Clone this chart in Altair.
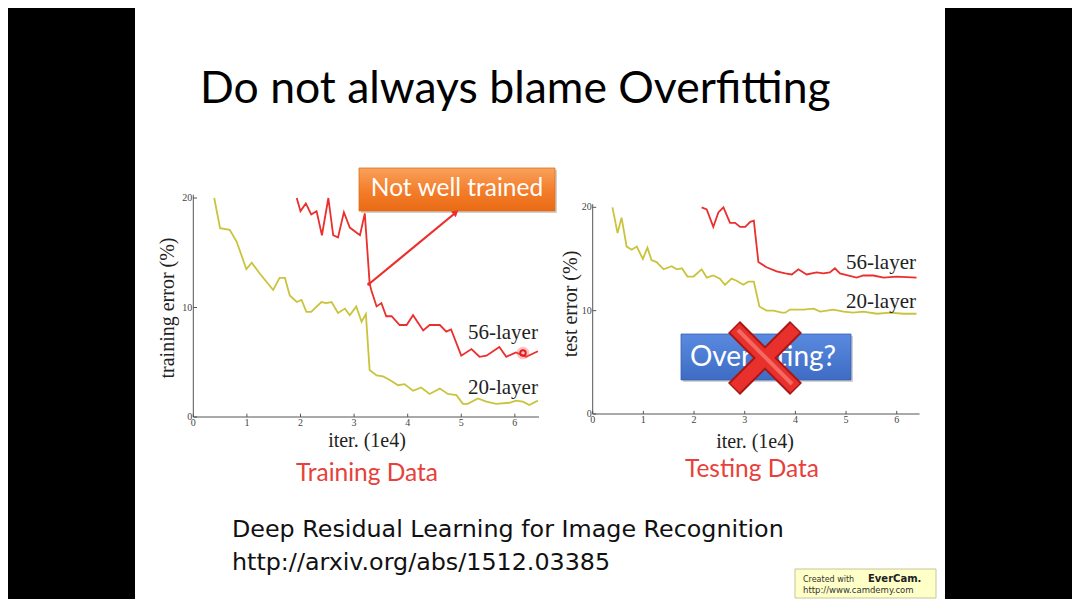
import altair as alt
import pandas as pd

# ---------------- data ----------------
train20_x = [0.39, 0.5, 0.68, 0.81, 0.99, 1.09, 1.24, 1.49, 1.61, 1.71, 1.8, 1.93, 2.02, 2.11, 2.2,
             2.39, 2.48, 2.58, 2.7, 2.83, 2.92, 3.04, 3.14, 3.22, 3.29, 3.42, 3.54, 3.66, 3.82, 3.94,
             4.1, 4.25, 4.41, 4.6, 4.75, 4.91, 5.03, 5.12, 5.31, 5.47, 5.65, 5.9, 6.02, 6.15, 6.27, 6.43]
train20_y = [20.0, 17.25, 17.1, 16.0, 13.5, 14.1, 13.1, 11.6, 12.7, 12.7, 11.1, 10.5, 10.7, 9.6, 9.6,
             10.5, 10.4, 10.5, 9.5, 9.9, 9.3, 10.1, 8.7, 9.4, 4.3, 3.8, 3.7, 3.4, 2.9, 3.0,
             2.4, 2.7, 2.1, 2.6, 2.1, 2.0, 1.2, 1.2, 1.7, 1.4, 1.2, 1.3, 1.5, 1.4, 1.1, 1.5]

train56_x = [1.93, 2.0, 2.1, 2.2, 2.3, 2.4, 2.52, 2.61, 2.7, 2.81, 2.92, 3.11, 3.2, 3.29, 3.32,
             3.42, 3.51, 3.6, 3.7, 3.85, 3.98, 4.1, 4.29, 4.41, 4.6, 4.72, 4.81, 5.0, 5.19, 5.34,
             5.47, 5.71, 5.84, 6.02, 6.21, 6.43]
train56_y = [20.0, 18.8, 19.5, 18.5, 18.8, 16.6, 20.0, 16.6, 16.4, 18.7, 17.3, 16.6, 18.6, 12.2, 11.6,
             10.1, 10.4, 9.2, 9.2, 8.4, 8.4, 9.3, 7.9, 8.4, 8.4, 7.8, 8.0, 5.6, 6.2, 5.5,
             5.6, 6.4, 5.5, 5.9, 5.5, 6.0]

test20_x = [0.39, 0.49, 0.57, 0.67, 0.77, 0.87, 0.99, 1.08, 1.16, 1.26, 1.4, 1.56, 1.66, 1.76, 1.87,
            1.99, 2.15, 2.25, 2.38, 2.51, 2.61, 2.74, 2.84, 2.97, 3.07, 3.18, 3.29, 3.43, 3.57, 3.73,
            3.8, 3.89, 4.16, 4.36, 4.49, 4.75, 4.95, 5.14, 5.34, 5.61, 5.87, 6.13, 6.39]
test20_y = [20.0, 17.5, 19.0, 16.2, 15.9, 16.2, 15.0, 16.1, 14.9, 14.7, 14.0, 14.3, 14.0, 14.1, 13.3,
            13.3, 14.0, 13.2, 13.4, 13.1, 12.5, 13.1, 12.9, 12.5, 12.8, 12.8, 10.4, 10.0, 10.0, 9.8,
            9.8, 10.1, 10.1, 10.2, 9.9, 10.1, 9.9, 9.8, 9.9, 9.7, 9.8, 9.7, 9.7]

test56_x = [2.15, 2.25, 2.38, 2.48, 2.58, 2.71, 2.81, 2.91, 3.01, 3.11, 3.18, 3.27, 3.43, 3.63, 3.8,
            3.93, 4.06, 4.22, 4.42, 4.55, 4.68, 4.78, 4.88, 5.05, 5.21, 5.34, 5.54, 5.74, 6.0, 6.39]
test56_y = [20.0, 19.8, 18.1, 19.5, 20.0, 18.5, 18.5, 18.1, 18.1, 18.6, 18.7, 14.7, 14.2, 13.8, 13.6,
            13.5, 14.0, 13.5, 13.7, 13.6, 13.7, 14.1, 13.6, 13.4, 13.2, 13.4, 13.4, 13.2, 13.3, 13.2]

x_ticks = [0, 1, 2, 3, 4, 5, 6]
y_ticks = [0, 10, 20]
x_title = "iter. (1e4)"
left_ylabel = "training error (%)"
right_ylabel = "test error (%)"
series_names = ["56-layer", "20-layer"]

RED = "#ea2f2c"
YEL = "#c9c43c"
AXC = "#555555"
SERIF = "Liberation Serif"
SANS = "Lato"

W, H = 1064, 591
one = pd.DataFrame({"a": [0]})


def txt(text, x, y, size, color="black", font=SANS, align="left", weight="normal",
        angle=None, baseline="middle"):
    kw = dict(text=text, fontSize=size, color=color, font=font, align=align,
              baseline=baseline, fontWeight=weight)
    if angle is not None:
        kw["angle"] = angle
    return alt.Chart(one).mark_text(**kw).encode(x=alt.value(x), y=alt.value(y))


def rect(x1, x2, y1, y2, fill, stroke=None, sw=0, opacity=1.0, radius=0):
    kw = dict(fill=fill, opacity=opacity, cornerRadius=radius)
    if stroke:
        kw["stroke"] = stroke
        kw["strokeWidth"] = sw
    return alt.Chart(one).mark_rect(**kw).encode(
        x=alt.value(x1), x2=alt.value(x2), y=alt.value(y1), y2=alt.value(y2))


def seg(x1, y1, x2, y2, color, width, cap="butt"):
    return alt.Chart(one).mark_rule(color=color, strokeWidth=width, strokeCap=cap).encode(
        x=alt.value(x1), x2=alt.value(x2), y=alt.value(y1), y2=alt.value(y2))


def panel(xs, ys, s56, s20, lab56_y, lab20_y, lab_x):
    layers = []
    X = lambda f: alt.X(f, scale=xs, axis=None)
    Y = lambda f: alt.Y(f, scale=ys, axis=None)
    # axes lines
    ax = pd.DataFrame({"x": [0, 0], "y": [0, 0], "x2": [0, 6.45], "y2": [20.3, 0]})
    layers.append(alt.Chart(ax).mark_rule(color=AXC, strokeWidth=1).encode(
        x=X("x:Q"), x2="x2:Q", y=Y("y:Q"), y2="y2:Q"))
    # ticks
    yt = pd.DataFrame({"x": [0] * len(y_ticks), "x2": [0.07] * len(y_ticks), "y": y_ticks})
    layers.append(alt.Chart(yt).mark_rule(color=AXC, strokeWidth=1).encode(
        x=X("x:Q"), x2="x2:Q", y=Y("y:Q")))
    xt = pd.DataFrame({"x": x_ticks, "y": [0] * len(x_ticks), "y2": [0.3] * len(x_ticks)})
    layers.append(alt.Chart(xt).mark_rule(color=AXC, strokeWidth=1).encode(
        x=X("x:Q"), y=Y("y:Q"), y2="y2:Q"))
    # tick labels
    ytl = pd.DataFrame({"x": [0] * len(y_ticks), "y": y_ticks, "t": [str(v) for v in y_ticks]})
    layers.append(alt.Chart(ytl).mark_text(align="right", baseline="middle", dx=-1, font=SERIF,
                                           fontSize=10, color="#444").encode(
        x=X("x:Q"), y=Y("y:Q"), text="t:N"))
    xtl = pd.DataFrame({"x": x_ticks, "y": [0] * len(x_ticks), "t": [str(v) for v in x_ticks]})
    layers.append(alt.Chart(xtl).mark_text(align="center", baseline="middle", dy=6, font=SERIF,
                                           fontSize=10, color="#444").encode(
        x=X("x:Q"), y=Y("y:Q"), text="t:N"))
    # lines
    for (xv, yv), col in [(s20, YEL), (s56, RED)]:
        df = pd.DataFrame({"x": xv, "y": yv})
        layers.append(alt.Chart(df).mark_line(color=col, strokeWidth=1.8).encode(
            x=X("x:Q"), y=Y("y:Q")))
    # series labels
    lab = pd.DataFrame({"x": [lab_x, lab_x], "y": [lab56_y, lab20_y], "t": series_names})
    layers.append(alt.Chart(lab).mark_text(align="right", baseline="middle", font=SERIF,
                                           fontSize=21, color="#222").encode(
        x=X("x:Q"), y=Y("y:Q"), text="t:N"))
    return layers


xsL = alt.Scale(domain=[0, 6.4], range=[185.3, 528.3], nice=False, zero=False)
ysL = alt.Scale(domain=[0, 20], range=[409, 190], nice=False, zero=False)
xsR = alt.Scale(domain=[0, 6.4], range=[584.7, 909], nice=False, zero=False)
ysR = alt.Scale(domain=[0, 20], range=[406, 199.3], nice=False, zero=False)

layers = []
# slide background
layers.append(rect(127, 937, 0, H, "white"))
# title
layers.append(txt("Do not always blame Overfitting", 192, 82, 44.5, font=SANS))

layers += panel(xsL, ysL, (train56_x, train56_y), (train20_x, train20_y), 7.7, 2.65, 6.43)
layers += panel(xsR, ysR, (test56_x, test56_y), (test20_x, test20_y), 14.6, 10.8, 6.38)

# axis titles
layers.append(txt(left_ylabel, 160, 300, 20, color="#222", font=SERIF, align="center", angle=270))
layers.append(txt(right_ylabel, 563, 296, 20, color="#222", font=SERIF, align="center", angle=270))
layers.append(txt(x_title, 359, 433, 20, color="#222", font=SERIF, align="center"))
layers.append(txt(x_title, 747, 434, 20, color="#222", font=SERIF, align="center"))

# captions
layers.append(txt("Training Data", 359, 466, 24.5, color="#e8403a", align="center"))
layers.append(txt("Testing Data", 744, 462, 24.5, color="#e8403a", align="center"))

# orange callout
layers.append(rect(353, 549, 162, 205, "#7a7a7a", opacity=0.35))
layers.append(rect(351, 547, 160, 203, alt.Gradient(
    gradient="linear", x1=0, y1=0, x2=0, y2=1,
    stops=[alt.GradientStop(offset=0, color="#f9a25c"),
           alt.GradientStop(offset=0.5, color="#f47f2c"),
           alt.GradientStop(offset=1, color="#e96a14")]), stroke="#e07020", sw=0.8))
layers.append(txt("Not well trained", 449, 181, 24.5, color="white", align="center"))
# arrow
layers.append(seg(361, 276, 446, 206, RED, 2.2))
layers.append(alt.Chart(one).mark_point(shape="triangle", filled=True, color=RED, size=55,
                                        angle=50, opacity=1).encode(
    x=alt.value(447), y=alt.value(205)))
layers.append(alt.Chart(one).mark_point(shape="circle", filled=True, color=RED, size=14,
                                        opacity=1).encode(x=alt.value(361), y=alt.value(276)))

# blue box with crossed-out word
layers.append(rect(675, 845, 328, 374, "#7a7a7a", opacity=0.35))
layers.append(rect(673, 843, 326, 372, alt.Gradient(
    gradient="linear", x1=0, y1=0, x2=0, y2=1,
    stops=[alt.GradientStop(offset=0, color="#5a8ae0"),
           alt.GradientStop(offset=1, color="#3e6cc4")]), stroke="#3560b0", sw=0.8))
layers.append(txt("Overfitting?", 755, 350, 28, color="white", align="center"))
for (a, b, c, d) in [(726, 319, 788, 381), (788, 319, 726, 381)]:
    layers.append(seg(a, b, c, d, "#a81616", 17))
for (a, b, c, d) in [(727, 320, 787, 380), (787, 320, 727, 380)]:
    layers.append(seg(a, b, c, d, "#e8302c", 13))
for (a, b, c, d) in [(730, 322, 784, 376)]:
    layers.append(seg(a, b, c, d, "#f46a62", 4))

# laser pointer dot
layers.append(alt.Chart(one).mark_point(shape="circle", filled=True, color="#ff5050", size=160,
                                        opacity=0.35).encode(x=alt.value(515), y=alt.value(345)))
layers.append(alt.Chart(one).mark_point(shape="circle", filled=False, color="#e02020", size=30,
                                        strokeWidth=2, opacity=1).encode(
    x=alt.value(515), y=alt.value(345)))

# reference
layers.append(txt("Deep Residual Learning for Image Recognition", 224, 522, 23.8, color="#111",
                  font="DejaVu Sans"))
layers.append(txt("http://arxiv.org/abs/1512.03385", 224, 555, 23.8, color="#111",
                  font="DejaVu Sans"))

# watermark
layers.append(rect(787, 928, 561, 590, "#ffffc8", stroke="#c9c49a", sw=1))
layers.append(txt("Created with", 795, 572, 8, color="#333", font="DejaVu Sans"))
layers.append(txt("EverCam.", 860, 571, 10, color="#222", font="DejaVu Sans", weight="bold"))
layers.append(txt("http://www.camdemy.com", 795, 582, 8.5, color="#333", font="DejaVu Sans"))

chart = alt.layer(*layers).resolve_scale(x="independent", y="independent").properties(
    width=W, height=H, autosize=alt.AutoSizeParams(type="none"), padding=0,
    background="black",
).configure_view(stroke=None)

chart.save("out.html", embed_options={"renderer": "svg", "actions": False})
